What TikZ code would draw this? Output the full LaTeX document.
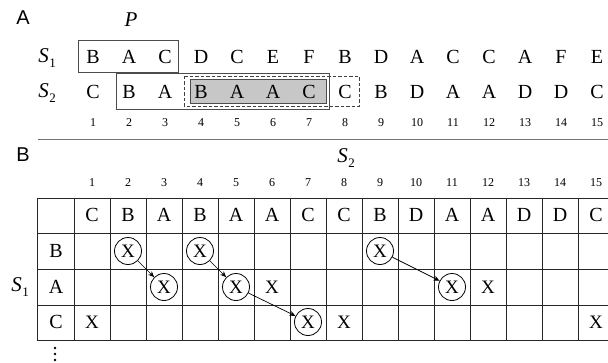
\documentclass[tikz,border=0pt]{standalone}
\usepackage{fontspec}
\setmainfont{Liberation Serif}
\newfontfamily\labfont{Liberation Sans}
\usetikzlibrary{arrows.meta}
\newcommand{\Sx}[1]{S\kern0.5pt\raisebox{-0.28em}{\upshape\fontsize{13}{13}\selectfont #1}}
\begin{document}
\begin{tikzpicture}[x=1pt,y=-1pt,
  let/.style={font=\fontsize{20}{20}\selectfont, inner sep=0pt},
  num/.style={font=\fontsize{12}{12}\selectfont, inner sep=0pt},
  panel/.style={font=\labfont\fontsize{20}{20}\selectfont, inner sep=0pt},
  seq/.style={font=\fontsize{21}{21}\selectfont\itshape, inner sep=0pt},
  xmark/.style={font=\fontsize{19}{19}\selectfont, inner sep=0pt, minimum size=27pt},
  cx/.style={xmark, circle, draw, line width=0.8pt},
  link/.style={-{Stealth[length=6pt,width=5pt]}, line width=0.7pt},
  grid/.style={line width=1pt, draw=black!85},
  boxline/.style={line width=0.9pt, draw=black!70}]
\useasboundingbox (0,0) rectangle (608,362);
% ---------- Panel A ----------
\node[panel] (pA) at (23,18) {A};
\node[seq] (P) at (131,20) {P};
\node[seq] (s1a) at (47,58) {\Sx{1}};
\node[seq] (s2a) at (47,93) {\Sx{2}};
% boxes
\draw[boxline] (116,73) rectangle (329,109);
\draw[line width=0.8pt, black!75, dash pattern=on 3.5pt off 2pt] (184,76) -- (359,76) -- (359,106) -- (184,106) -- cycle;
\fill[black!22] (190,79) rectangle (326,103);
\draw[boxline] (190,79) rectangle (326,103);
\draw[boxline] (78,40) rectangle (178,72);
\foreach \c [count=\i] in {B,A,C,D,C,E,F,B,D,A,C,C,A,F,E}
  \node[let] (a1\i) at ({93+36*(\i-1)},57) {\c};
\foreach \c [count=\i] in {C,B,A,B,A,A,C,C,B,D,A,A,D,D,C}
  \node[let] (a2\i) at ({93+36*(\i-1)},92) {\c};
\foreach \i in {1,...,15}
  \node[num] (an\i) at ({93+36*(\i-1)},123) {\i};
\draw[line width=0.9pt, black!55] (38,139) -- (608,139);
% ---------- Panel B ----------
\node[panel] (pB) at (23,155) {B};
\node[seq] (s2b) at (346,158) {\Sx{2}};
\node[seq] (s1b) at (20,287) {\Sx{1}};
\foreach \i in {1,...,15}
  \node[num] (bn\i) at ({92+36*(\i-1)},183) {\i};
% grid
\foreach \y in {198,233,269,305,340}
  \draw[grid] (37,\y) -- (614,\y);
\draw[grid] (37,198) -- (37,340);
\foreach \i in {0,...,15}
  \draw[grid] ({74+36*\i},198) -- ({74+36*\i},340);
\foreach \c [count=\i] in {C,B,A,B,A,A,C,C,B,D,A,A,D,D,C}
  \node[let] (h\i) at ({92+36*(\i-1)},215) {\c};
\node[let] (rB) at (56,251) {B};
\node[let] (rA) at (56,287) {A};
\node[let] (rC) at (56,322) {C};
% marks
\node[cx] (xB2) at ({92+36*1},251) {X};
\node[cx] (xB4) at ({92+36*3},251) {X};
\node[cx] (xB9) at ({92+36*8},251) {X};
\node[cx] (xA3) at ({92+36*2},287) {X};
\node[cx] (xA5) at ({92+36*4},287) {X};
\node[xmark] (xA6) at ({92+36*5},287) {X};
\node[cx] (xA11) at ({92+36*10},287) {X};
\node[xmark] (xA12) at ({92+36*11},287) {X};
\node[xmark] (xC1) at ({92+36*0},322) {X};
\node[cx] (xC7) at ({92+36*6},322) {X};
\node[xmark] (xC8) at ({92+36*7},322) {X};
\node[xmark] (xC15) at ({92+36*14},322) {X};
\draw[link] (xB2) -- (xA3);
\draw[link] (xB4) -- (xA5);
\draw[link] (xA5) -- (xC7);
\draw[link] (xB9) -- (xA11);
\foreach \y in {348,354,360}
  \fill (55,\y) circle (1.3pt);
\end{tikzpicture}
\end{document}
